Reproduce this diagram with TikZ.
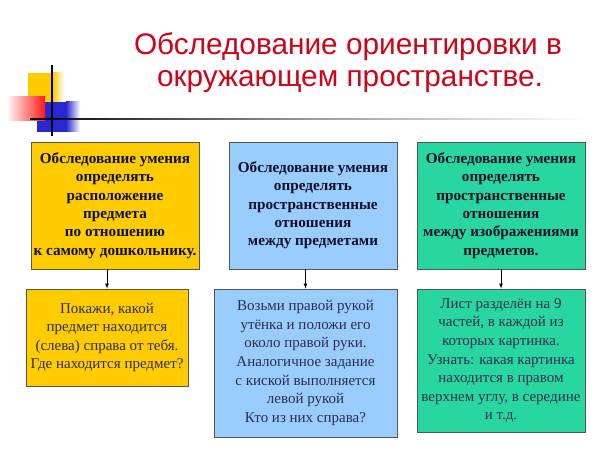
\documentclass[tikz,border=0pt]{standalone}
\usepackage{fontspec}
\setmainfont{Liberation Serif}
\newfontfamily\titlefont{Liberation Sans}
\definecolor{titlered}{RGB}{205,5,25}
\definecolor{boxyellow}{RGB}{255,204,0}
\definecolor{boxblue}{RGB}{153,204,255}
\definecolor{boxgreen}{RGB}{40,215,160}
\definecolor{boxline}{RGB}{85,85,85}
\definecolor{toptext}{RGB}{15,15,40}
\definecolor{lowtext}{RGB}{45,45,80}
\definecolor{decoblue}{RGB}{40,40,210}

\begin{document}
\begin{tikzpicture}[x=1pt, y=-1pt,
    title/.style={font=\titlefont\fontsize{29.8}{34}\selectfont, text=titlered, inner sep=0pt, anchor=base},
    box/.style={draw=boxline, line width=0.8pt, inner sep=1pt, align=center},
    topbox/.style={box, minimum width=168pt, minimum height=127pt, text=toptext, font=\fontsize{15.2}{18.3}\selectfont\bfseries},
    lowbox/.style={box, text=lowtext, font=\fontsize{15}{18.6}\selectfont}]
    \useasboundingbox[fill=white] (0,0) rectangle (610,457);

    % corner decoration
    \fill[boxyellow] (28,73) rectangle (53,112);
    \shade[left color=boxyellow, right color=white] (53,73) rectangle (64,112);
    \fill[decoblue] (37,102) rectangle (66,132);
    \shade[left color=decoblue, right color=white] (66,102) rectangle (80,132);
    \shade[left color=red!5, right color=red!90] (8,97) rectangle (45,121);
    \draw[line width=1.3pt] (52,65) -- (52,136);
    \shade[left color=black, right color=white, middle color=gray!80] (30,118.3) rectangle (585,119.8);

    \node[title] (title1) at (348,55) {Обследование ориентировки в};
    \node[title] (title2) at (350,87) {окружающем пространстве.};

    \node[topbox, fill=boxyellow] (top1) at (115,205.5) {Обследование умения\\ определять\\ расположение\\ предмета\\ по отношению\\ к самому дошкольнику.};
    \node[topbox, fill=boxblue] (top2) at (313,205.5) {Обследование умения\\ определять\\ пространственные\\ отношения\\ между предметами};
    \node[topbox, fill=boxgreen] (top3) at (501,205.5) {Обследование умения\\ определять\\ пространственные\\ отношения\\ между изображениями\\ предметов.};

    \node[lowbox, fill=boxyellow, minimum width=162pt, minimum height=97pt] (low1) at (107,337.5) {Покажи, какой\\ предмет находится\\ (слева) справа от тебя.\\ Где находится предмет?};
    \node[lowbox, fill=boxblue, minimum width=183pt, minimum height=148pt] (low2) at (305.5,363) {Возьми правой рукой\\ утёнка и положи его\\ около правой руки.\\ Аналогичное задание\\ с киской выполняется\\ левой рукой\\ Кто из них справа?};
    \node[lowbox, fill=boxgreen, minimum width=168pt, minimum height=143pt] (low3) at (501,360.5) {Лист разделён на 9\\ частей, в каждой из\\ которых картинка.\\ Узнать: какая картинка\\ находится в правом\\ верхнем углу, в середине\\ и т.д.};

    \draw[-latex, line width=0.7pt] (low1.north |- top1.south) -- (low1.north);
    \draw[-latex, line width=0.7pt] (low2.north |- top2.south) -- (low2.north);
    \draw[-latex, line width=0.7pt] (low3.north |- top3.south) -- (low3.north);
\end{tikzpicture}
\end{document}
